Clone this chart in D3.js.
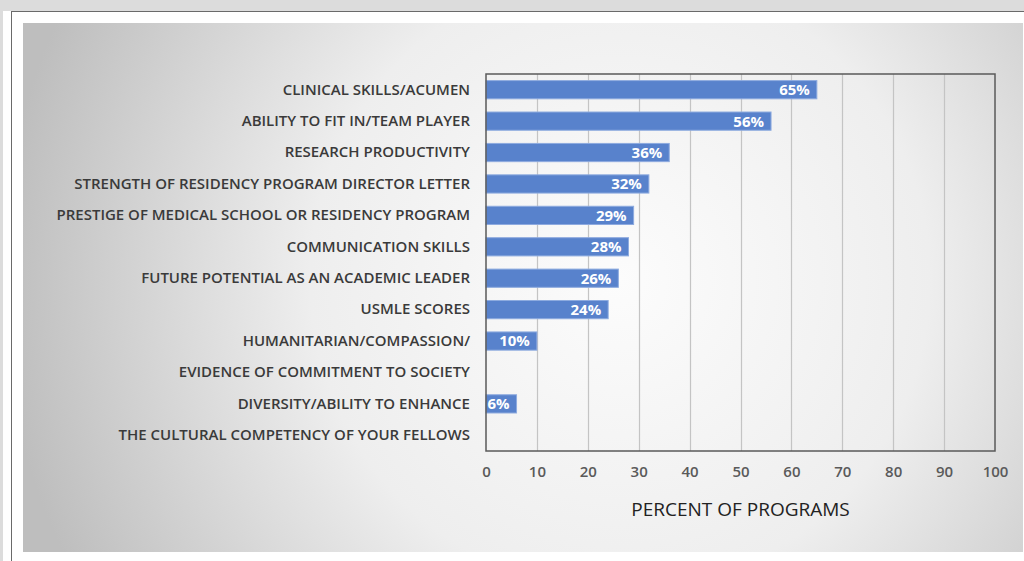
<!DOCTYPE html>
<html>
<head>
<meta charset="utf-8">
<script src="https://cdn.jsdelivr.net/npm/d3@7"></script>
<style>
  body { margin: 0; background: #ffffff; }
  svg { display: block; }
</style>
</head>
<body>
<svg id="chart" width="1024" height="561"></svg>
<script>
// data
var categories = [
  "CLINICAL SKILLS/ACUMEN",
  "ABILITY TO FIT IN/TEAM PLAYER",
  "RESEARCH PRODUCTIVITY",
  "STRENGTH OF RESIDENCY PROGRAM DIRECTOR LETTER",
  "PRESTIGE OF MEDICAL SCHOOL OR RESIDENCY PROGRAM",
  "COMMUNICATION SKILLS",
  "FUTURE POTENTIAL AS AN ACADEMIC LEADER",
  "USMLE SCORES",
  "HUMANITARIAN/COMPASSION/",
  "EVIDENCE OF COMMITMENT TO SOCIETY",
  "DIVERSITY/ABILITY TO ENHANCE ",
  "THE CULTURAL COMPETENCY OF YOUR FELLOWS"
];
var values = [65, 56, 36, 32, 29, 28, 26, 24, 10, null, 6, null];
var xTicks = [0, 10, 20, 30, 40, 50, 60, 70, 80, 90, 100];
var axisTitle = "PERCENT OF PROGRAMS";

var svg = d3.select("#chart");
var font = "'Open Sans', 'DejaVu Sans', sans-serif";

// page frame behind the chart
svg.append("rect").attr("x", 0).attr("y", 0).attr("width", 1024).attr("height", 11).style("fill", "#dcdcdc");
svg.append("rect").attr("x", 0).attr("y", 0).attr("width", 3).attr("height", 561).style("fill", "#dcdcdc");
svg.append("line").attr("x1", 11).attr("x2", 1024).attr("y1", 11.5).attr("y2", 11.5).style("stroke", "#6a6a6a");
svg.append("line").attr("x1", 11.5).attr("x2", 11.5).attr("y1", 11).attr("y2", 561).style("stroke", "#6a6a6a");

// grey gradient panel
var defs = svg.append("defs");
var grad = defs.append("radialGradient").attr("id", "panelGrad")
  .attr("gradientUnits", "userSpaceOnUse")
  .attr("cx", 620).attr("cy", 280).attr("r", 620);
grad.append("stop").attr("offset", "0%").attr("stop-color", "#fcfcfc");
grad.append("stop").attr("offset", "50%").attr("stop-color", "#eeeeee");
grad.append("stop").attr("offset", "100%").attr("stop-color", "#bebebe");
svg.append("rect").attr("x", 23).attr("y", 23).attr("width", 1000).attr("height", 529)
  .style("fill", "url(#panelGrad)");

// plot area
var plotL = 486, plotR = 995, plotT = 74, plotB = 451;

var x = d3.scaleLinear().domain([0, 100]).range([plotL, plotR]);
var y = d3.scaleBand().domain(categories).range([plotT, plotB]).paddingInner(0.42).paddingOuter(0.21);

var barData = values
  .map(function(v, i) { return { cat: categories[i], v: v }; })
  .filter(function(d) { return d.v != null; });

// vertical gridlines
svg.append("g").selectAll("line")
  .data(xTicks.slice(1, -1))
  .enter()
  .append("line")
    .attr("x1", function(d) { return Math.round(x(d)) + 0.5; })
    .attr("x2", function(d) { return Math.round(x(d)) + 0.5; })
    .attr("y1", plotT)
    .attr("y2", plotB)
    .style("stroke", "#c4c4c4")
    .style("stroke-width", 1.2);

// bars
svg.append("g").selectAll("rect")
  .data(barData)
  .enter()
  .append("rect")
    .attr("x", x(0))
    .attr("y", function(d) { return y(d.cat); })
    .attr("width", function(d) { return x(d.v) - x(0); })
    .attr("height", y.bandwidth())
    .style("fill", "#5882cc")
    .style("stroke", "#8eabdf")
    .style("stroke-width", 1);

// value labels inside bar ends
svg.append("g").selectAll("text")
  .data(barData)
  .enter()
  .append("text")
    .attr("x", function(d) { return x(d.v) - 7; })
    .attr("y", function(d) { return y(d.cat) + y.bandwidth() / 2; })
    .attr("dy", "0.36em")
    .attr("text-anchor", "end")
    .text(function(d) { return d.v + "%"; })
    .style("font", "bold 15px " + font)
    .style("fill", "#ffffff");

// plot border
svg.append("rect")
  .attr("x", plotL).attr("y", plotT)
  .attr("width", plotR - plotL).attr("height", plotB - plotT)
  .style("fill", "none")
  .style("stroke", "#5a5a5a")
  .style("stroke-width", 1.5);

// category labels (y axis)
var yAxis = svg.append("g")
  .attr("transform", "translate(" + plotL + ",0)")
  .call(d3.axisLeft(y).tickSize(0).tickPadding(16));
yAxis.select(".domain").remove();
yAxis.selectAll("text")
  .style("font-family", font)
  .style("font-size", "15px")
  .style("font-weight", "600")
  .style("fill", "#3a3a3a");

// x axis tick labels
var xAxis = svg.append("g")
  .attr("transform", "translate(0," + plotB + ")")
  .call(d3.axisBottom(x).tickValues(xTicks).tickSize(0).tickPadding(15));
xAxis.select(".domain").remove();
xAxis.selectAll("text")
  .style("font-family", font)
  .style("font-size", "15px")
  .style("font-weight", "600")
  .style("fill", "#5a5a5a");

// axis title
svg.append("text")
  .attr("x", (plotL + plotR) / 2)
  .attr("y", 516)
  .attr("text-anchor", "middle")
  .text(axisTitle)
  .style("font", "19px " + font)
  .style("fill", "#222222");
</script>
</body>
</html>
